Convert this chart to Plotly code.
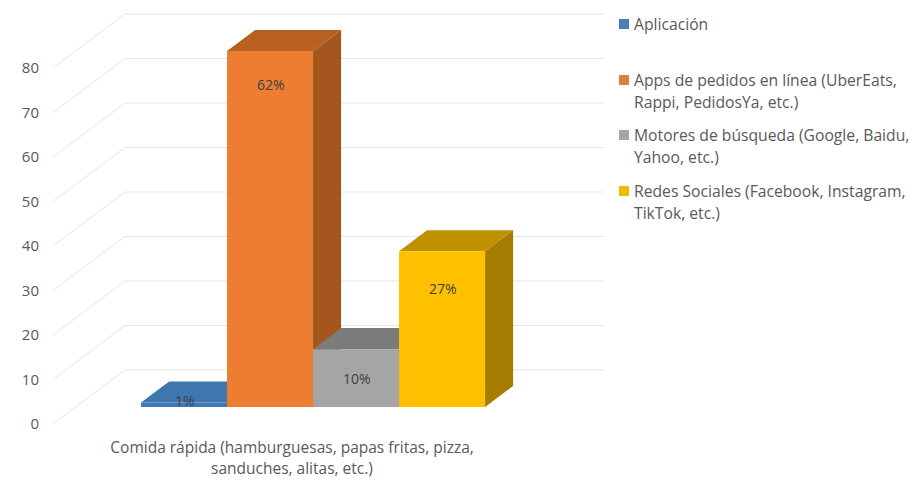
import plotly.graph_objects as go

# Survey counts per channel; percentage labels are derived from them
category_lines = ["Comida rápida (hamburguesas, papas fritas, pizza,", "sanduches, alitas, etc.)"]
series_names = [
    "Aplicación",
    "Apps de pedidos en línea (UberEats, Rappi, PedidosYa, etc.)",
    "Motores de búsqueda (Google, Baidu, Yahoo, etc.)",
    "Redes Sociales (Facebook, Instagram, TikTok, etc.)",
]
legend_lines = [
    ["Aplicación"],
    ["Apps de pedidos en línea (UberEats,", "Rappi, PedidosYa, etc.)"],
    ["Motores de búsqueda (Google, Baidu,", "Yahoo, etc.)"],
    ["Redes Sociales (Facebook, Instagram,", "TikTok, etc.)"],
]
series_values = [1, 80, 13, 35]
y_ticks = [0, 10, 20, 30, 40, 50, 60, 70, 80]

# Pseudo-3D projection: pixel scales of the drawing and the oblique depth vector
W, H = 919, 481
PX_PER_X = 86.0
PX_PER_Y = 4.45
ORIGIN_PX = (53, 424)        # front-left floor corner
DEPTH_PX = (72, 54)          # shift from the front edge to the back wall
WALL_WIDTH = 5.56            # floor width in bar widths
PLOT_L, PLOT_R, PLOT_T, PLOT_B = 40, 610, 0, 432
BAR_START = 0.76
BAR_DEPTH = (0.315, 0.705)   # front and back of the bars, as a share of the floor depth

FRONT = ["#3F78B4", "#ED7D31", "#A5A5A5", "#FFC000"]
TOP = ["#3F76AE", "#B8601F", "#7B7B7B", "#BF9000"]
SIDE = ["#35618F", "#A5561F", "#6E6E6E", "#A67D00"]
KEY = ["#4A7EBB", "#D2804A", "#A5A5A5", "#E8C000"]
TEXT = "#595959"
FONT = "Open Sans"
TICK_SIZE = 15
CATEGORY_SIZE = 15.5
LEGEND_SIZE = 15.7
# Distance of each percentage label below the bar's top edge, in pixels
LABEL_DROP = [-0.5, 36, 31, 39]


def project(x, value, depth):
    """Map (bar-width x, axis value, floor depth share) onto the flat axes."""
    return x + depth * DEPTH_PX[0] / PX_PER_X, value + depth * DEPTH_PX[1] / PX_PER_Y


def polygon(corners, color):
    pts = [project(*c) for c in corners]
    xs = [p[0] for p in pts] + [pts[0][0]]
    ys = [p[1] for p in pts] + [pts[0][1]]
    return go.Scatter(x=xs, y=ys, mode="lines", fill="toself", fillcolor=color,
                      line=dict(width=0, color=color), showlegend=False, hoverinfo="skip")


fig = go.Figure()

# Wall and floor gridlines
for v in y_ticks:
    pts = [project(0, v, 0), project(0, v, 1), project(WALL_WIDTH, v, 1)]
    fig.add_trace(go.Scatter(x=[p[0] for p in pts], y=[p[1] for p in pts], mode="lines",
                             line=dict(color="#E4E4E4", width=1), showlegend=False, hoverinfo="skip"))

# Bars, left to right so later ones overlap the sides of earlier ones
d0, d1 = BAR_DEPTH
for i, v in enumerate(series_values):
    a, b = BAR_START + i, BAR_START + i + 1
    fig.add_trace(polygon([(b, 0, d0), (b, 0, d1), (b, v, d1), (b, v, d0)], SIDE[i]))
    fig.add_trace(polygon([(a, v, d0), (b, v, d0), (b, v, d1), (a, v, d1)], TOP[i]))
    fig.add_trace(polygon([(a, 0, d0), (b, 0, d0), (b, v, d0), (a, v, d0)], FRONT[i]))

# Percentage labels on the bar faces
total = sum(series_values)
label_points = [project(BAR_START + i + 0.51, v - LABEL_DROP[i] / PX_PER_Y, d0)
                for i, v in enumerate(series_values)]
fig.add_trace(go.Scatter(
    x=[p[0] for p in label_points], y=[p[1] for p in label_points],
    mode="text", text=[f"{round(v / total * 100)}%" for v in series_values],
    textposition="middle center", textfont=dict(family=FONT, size=14, color="#404040"),
    showlegend=False, hoverinfo="skip",
))

# Legend keys and wrapped entries, placed in page fractions
annotations, shapes = [], []
entry_y = [24, 80, 135, 191]
for y0, lines, color in zip(entry_y, legend_lines, KEY):
    shapes.append(dict(type="rect", xref="paper", yref="paper", layer="above",
                       x0=(619 - PLOT_L) / (PLOT_R - PLOT_L), x1=(629 - PLOT_L) / (PLOT_R - PLOT_L),
                       y0=(PLOT_B - y0 - 5) / PLOT_B, y1=(PLOT_B - y0 + 5) / PLOT_B,
                       fillcolor=color, line=dict(width=0)))
    for k, line in enumerate(lines):
        annotations.append(dict(xref="paper", yref="paper", x=(632 - PLOT_L) / (PLOT_R - PLOT_L),
                                y=(PLOT_B - (y0 + k * 22)) / PLOT_B, text=line, showarrow=False,
                                xanchor="left", yanchor="middle",
                                font=dict(family=FONT, size=LEGEND_SIZE, color=TEXT)))

# Second line of the category label, spaced wider than a plain line break
annotations.append(dict(xref="x", yref="paper", x=WALL_WIDTH / 2, y=(PLOT_B - 468) / PLOT_B,
                        text=category_lines[1], showarrow=False, xanchor="center", yanchor="middle",
                        font=dict(family=FONT, size=CATEGORY_SIZE, color=TEXT)))

fig.update_layout(
    width=W, height=H,
    margin=dict(l=PLOT_L, r=W - PLOT_R, t=PLOT_T, b=H - PLOT_B, pad=0),
    paper_bgcolor="white", plot_bgcolor="white",
    showlegend=False,
    shapes=shapes, annotations=annotations,
    xaxis=dict(
        range=[(PLOT_L - ORIGIN_PX[0]) / PX_PER_X, (PLOT_R - ORIGIN_PX[0]) / PX_PER_X],
        tickmode="array", tickvals=[WALL_WIDTH / 2], ticktext=[category_lines[0]],
        tickfont=dict(family=FONT, size=CATEGORY_SIZE, color=TEXT),
        showgrid=False, zeroline=False, showline=False, ticks="", ticklabelstandoff=4,
    ),
    yaxis=dict(
        range=[(ORIGIN_PX[1] - PLOT_B) / PX_PER_Y, (ORIGIN_PX[1] - PLOT_T) / PX_PER_Y],
        tickmode="array", tickvals=y_ticks,
        tickfont=dict(family=FONT, size=TICK_SIZE, color=TEXT),
        showgrid=False, zeroline=False, showline=False, ticks="",
    ),
)

fig.write_html("out.html")
